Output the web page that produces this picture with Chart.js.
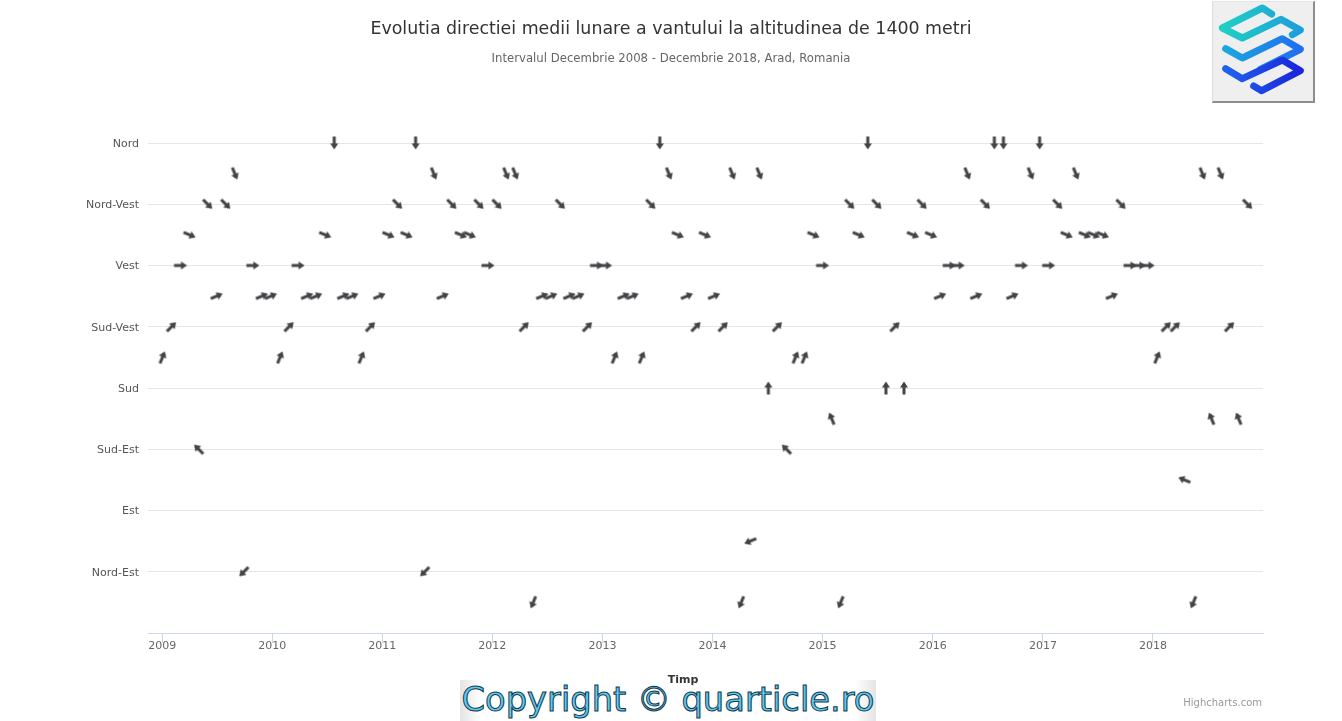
<!DOCTYPE html>
<html>
<head>
<meta charset="utf-8">
<script src="https://cdn.jsdelivr.net/npm/chart.js@4.4.1/dist/chart.umd.min.js"></script>
<style>
    html, body { margin: 0; padding: 0; background: #fff; }
    #wrap { position: relative; width: 1342px; height: 721px; overflow: hidden; font-family: "DejaVu Sans", sans-serif; }
    #myChart { position: absolute; left: 0; top: 0; }
    .txt { position: absolute; white-space: nowrap; z-index: 2; }
    #title { left: 0; width: 1342px; top: 18px; text-align: center; font-size: 17.4px; color: #333; }
    #subtitle { left: 0; width: 1342px; top: 51px; text-align: center; font-size: 11.7px; color: #666; }
    #xtitle { left: 583px; width: 200px; top: 673px; text-align: center; font-size: 11px; font-weight: bold; color: #333; z-index: 4; }
    #credits { right: 80px; top: 697px; font-size: 10px; color: #999; }
    #copy { position: absolute; left: 460px; top: 680px; width: 416px; height: 41px; overflow: hidden; background: linear-gradient(to right, #e4e4e4, #fff 5%, #fff 95%, #e4e4e4); z-index: 3; }
    #copy span { position: absolute; left: 0; width: 416px; top: 3px; line-height: 33px; text-align: center; font-family: "DejaVu Sans", sans-serif; font-size: 33px; color: #5ccbf2; -webkit-text-stroke: 1px #17384c; transform-origin: 50% 50%; }
    #logo { position: absolute; left: 1212px; top: 1px; width: 100px; height: 99px; background: #efefef; border-right: 2px solid #8d8d8d; border-bottom: 2px solid #8d8d8d; border-left: 1px solid #dcdcdc; border-top: 1px solid #e4e4e4; z-index: 2; }
</style>
</head>
<body>
<div id="wrap">
    <canvas id="myChart" width="1342" height="721"></canvas>
    <div class="txt" id="title">Evolutia directiei medii lunare a vantului la altitudinea de 1400 metri</div>
    <div class="txt" id="subtitle">Intervalul Decembrie 2008 - Decembrie 2018, Arad, Romania</div>
    <div class="txt" id="xtitle">Timp</div>
    <div class="txt" id="credits">Highcharts.com</div>
    <div id="copy"><span id="copytext">Copyright © quarticle.ro</span></div>
    <div id="logo">
        <svg width="100" height="99" viewBox="24 6 300 297">
            <defs>
                <linearGradient id="g1" x1="0" y1="0" x2="1" y2="0">
                    <stop offset="0" stop-color="#1fcfc3"/><stop offset="1" stop-color="#1c9fdc"/>
                </linearGradient>
                <linearGradient id="g2" x1="0" y1="0" x2="1" y2="0">
                    <stop offset="0" stop-color="#1ca6df"/><stop offset="1" stop-color="#1f6ef0"/>
                </linearGradient>
                <linearGradient id="g3" x1="0" y1="0" x2="1" y2="0">
                    <stop offset="0" stop-color="#1f62ee"/><stop offset="1" stop-color="#1b25dc"/>
                </linearGradient>
            </defs>
            <g fill="none" stroke-width="21" stroke-linecap="round" stroke-linejoin="round">
                <polyline stroke="url(#g1)" points="200,42 172,24 52,84 112,114 228,58 286,90 262,104"/>
                <polyline stroke="url(#g2)" points="62,146 112,174 232,116 286,148 166,208"/>
                <polyline stroke="url(#g3)" points="62,206 112,236 232,180 286,212 170,272 146,258"/>
            </g>
        </svg>
    </div>
</div>
<script>
// directia medie lunara, Dec 2008 - Dec 2018
const directii = [
    'SSV', 'SV', 'V', 'VNV', 'SE', 'NV', 'VSV', 'NV', 'NNV', 'NE',
    'V', 'VSV', 'VSV', 'SSV', 'SV', 'V', 'VSV', 'VSV', 'VNV', 'N',
    'VSV', 'VSV', 'SSV', 'SV', 'VSV', 'VNV', 'NV', 'VNV', 'N', 'NE',
    'NNV', 'VSV', 'NV', 'VNV', 'VNV', 'NV', 'V', 'NV', 'NNV', 'NNV',
    'SV', 'NNE', 'VSV', 'VSV', 'NV', 'VSV', 'VSV', 'SV', 'V', 'V',
    'SSV', 'VSV', 'VSV', 'SSV', 'NV', 'N', 'NNV', 'VNV', 'VSV', 'SV',
    'VNV', 'VSV', 'SV', 'NNV', 'NNE', 'ENE', 'NNV', 'S', 'SV', 'SE',
    'SSV', 'SSV', 'VNV', 'V', 'SSE', 'NNE', 'NV', 'VNV', 'N', 'NV',
    'S', 'SV', 'S', 'VNV', 'NV', 'VNV', 'VSV', 'V', 'V', 'NNV',
    'VSV', 'NV', 'N', 'N', 'VSV', 'V', 'NNV', 'N', 'V', 'NV',
    'VNV', 'NNV', 'VNV', 'VNV', 'VNV', 'VSV', 'NV', 'V', 'V', 'V',
    'SSV', 'SV', 'SV', 'ESE', 'NNE', 'NNV', 'SSE', 'NNV', 'SV', 'SSE',
    'NV'
];

const grade = {
    'N': 360, 'NNV': 337.5, 'NV': 315, 'VNV': 292.5, 'V': 270, 'VSV': 247.5,
    'SV': 225, 'SSV': 202.5, 'S': 180, 'SSE': 157.5, 'SE': 135, 'ESE': 112.5,
    'E': 90, 'ENE': 67.5, 'NE': 45, 'NNE': 22.5
};

const yValori = [45, 90, 135, 180, 225, 270, 315, 360];
const yEtichete = ['Nord-Est', 'Est', 'Sud-Est', 'Sud', 'Sud-Vest', 'Vest', 'Nord-Vest', 'Nord'];
const anii = [2009, 2010, 2011, 2012, 2013, 2014, 2015, 2016, 2017, 2018];

const zi = 24 * 3600 * 1000;
const pointStart = Date.UTC(2009, 0, 2);
const pointInterval = 30 * zi;

// copyright text stretched to the width of the original stamp
(function () {
    const span = document.getElementById('copytext');
    const m = document.createElement('canvas').getContext('2d');
    m.font = '33px "DejaVu Sans"';
    const w = m.measureText(span.textContent).width;
    span.style.transform = 'scaleX(' + (413 / w) + ')';
})();

// sageata desenata o data, orientata in sus
function makeArrow() {
    const c = document.createElement('canvas');
    c.width = 16;
    c.height = 16;
    const g = c.getContext('2d');
    g.fillStyle = '#434348';
    g.fillRect(6.5, 6, 3, 8.5);
    g.beginPath();
    g.moveTo(8, 1.5);
    g.lineTo(12, 7.5);
    g.lineTo(4, 7.5);
    g.closePath();
    g.fill();
    return c;
}

const arrow = makeArrow();
const points = directii.map((d, i) => ({ x: pointStart + i * pointInterval, y: grade[d] }));
const axisFont = { size: 11, family: '"DejaVu Sans", sans-serif' };

const ctx = document.getElementById('myChart').getContext('2d');
new Chart(ctx, {
    type: 'scatter',
    data: {
        datasets: [{
            data: points,
            pointStyle: arrow,
            radius: 8,
            rotation: c => (grade[directii[c.dataIndex]] + 180) % 360,
            clip: false
        }]
    },
    options: {
        responsive: false,
        animation: false,
        layout: { padding: { top: 143, right: 79, left: 0, bottom: 0 } },
        plugins: {
            legend: { display: false },
            tooltip: { enabled: false },
            title: { display: false }
        },
        scales: {
            x: {
                type: 'linear',
                min: Date.UTC(2008, 10, 15),
                max: Date.UTC(2019, 0, 1),
                afterBuildTicks: s => { s.ticks = anii.map(a => ({ value: Date.UTC(a, 0, 1) })); },
                afterFit: s => { s.height = 88; },
                ticks: {
                    callback: v => new Date(v).getUTCFullYear(),
                    font: axisFont,
                    color: '#666',
                    padding: -3,
                    maxRotation: 0,
                    autoSkip: false
                },
                grid: { drawOnChartArea: false, tickLength: 10, color: '#ccd6eb' },
                border: { color: '#ccd6eb' }
            },
            y: {
                min: 0,
                max: 360,
                afterBuildTicks: s => { s.ticks = [0].concat(yValori).map(v => ({ value: v })); },
                afterFit: s => { s.width = 148; },
                ticks: {
                    callback: v => { const k = yValori.indexOf(v); return k < 0 ? '' : yEtichete[k]; },
                    font: axisFont,
                    color: '#555',
                    padding: 9,
                    labelOffset: 1,
                    autoSkip: false
                },
                grid: { color: '#e6e6e6', drawTicks: false },
                border: { display: false }
            }
        }
    }
});
</script>
</body>
</html>
